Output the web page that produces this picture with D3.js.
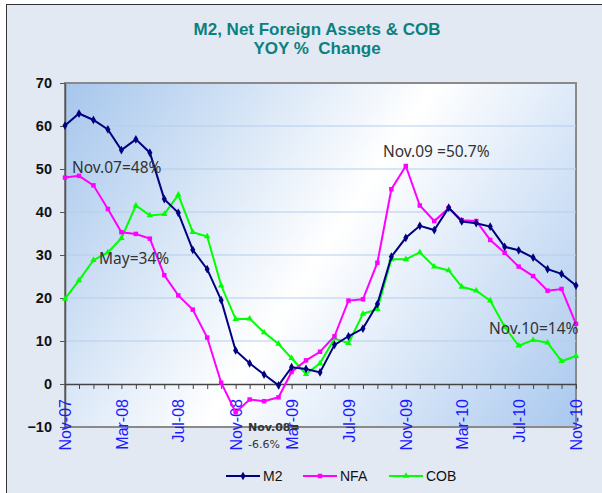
<!DOCTYPE html>
<html>
<head>
<meta charset="utf-8">
<script src="https://cdn.jsdelivr.net/npm/d3@7"></script>
<style>
  body { margin: 0; background: #fff; }
  svg { display: block; font-family: "Liberation Sans", Arial, sans-serif; }
</style>
</head>
<body>
<div id="chart"></div>
<script>
// monthly data, Nov-07 .. Nov-10 (YOY % change)
var months = d3.timeMonth.range(new Date(2007, 10, 1), new Date(2010, 11, 1));
var m2 = [60.1, 62.9, 61.4, 59.2, 54.4, 56.9, 53.8, 43.0, 39.8, 31.2, 26.7, 19.5, 7.8, 4.8, 2.2, -0.3, 3.9, 3.5, 2.7, 9.1,
          11.1, 12.9, 18.6, 29.6, 34.0, 36.8, 35.8, 41.0, 37.8, 37.4, 36.6, 31.9, 31.1, 29.4, 26.7, 25.6, 22.9];
var nfa = [48.0, 48.4, 46.2, 40.7, 35.3, 34.9, 33.8, 25.3, 20.6, 17.3, 10.8, 0.3, -6.6, -3.6, -4.0, -3.1, 2.8, 5.5, 7.5, 11.1,
           19.4, 19.7, 28.2, 45.3, 50.7, 41.5, 37.9, 40.9, 38.1, 37.9, 33.5, 30.5, 27.3, 25.1, 21.7, 22.1, 14.0];
var cob = [19.8, 24.1, 28.8, 30.6, 33.9, 41.5, 39.2, 39.5, 44.0, 35.3, 34.3, 22.9, 15.1, 15.2, 12.0, 9.3, 6.0, 2.3, 4.8, 10.6,
           9.5, 16.3, 17.4, 29.0, 29.0, 30.6, 27.3, 26.4, 22.6, 21.7, 19.4, 13.3, 8.9, 10.2, 9.6, 5.3, 6.5];
var yTicks = [-10, 0, 10, 20, 30, 40, 50, 60, 70];
var titleLines = ["M2, Net Foreign Assets & COB", "YOY %  Change"];

var W = 602, H = 493;
var plot = {left: 65, right: 576, top: 83, bottom: 427};

var svg = d3.select("#chart").append("svg")
    .attr("width", W)
    .attr("height", H);

// outer chart background + frame
svg.append("rect")
    .attr("x", 6.5).attr("y", 4.5)
    .attr("width", 620).attr("height", 520)
    .attr("fill", "#e3e9f3")
    .attr("stroke", "#333").attr("stroke-width", 1);

// plot area gradient (blue corners, white diagonal)
var defs = svg.append("defs");
var grad = defs.append("linearGradient")
    .attr("id", "plotGrad")
    .attr("gradientUnits", "userSpaceOnUse")
    .attr("x1", plot.left).attr("y1", plot.top)
    .attr("x2", plot.right).attr("y2", plot.bottom);
grad.append("stop").attr("offset", "0%").attr("stop-color", "#a6c6ec");
grad.append("stop").attr("offset", "50%").attr("stop-color", "#ffffff");
grad.append("stop").attr("offset", "100%").attr("stop-color", "#a9c8ee");

svg.append("rect")
    .attr("x", plot.left).attr("y", plot.top)
    .attr("width", plot.right - plot.left).attr("height", plot.bottom - plot.top)
    .attr("fill", "url(#plotGrad)")
    .attr("stroke", "#8a8a8a").attr("stroke-width", 2);

// scales
var x = d3.scaleTime()
    .domain([months[0], months[months.length - 1]])
    .range([plot.left, plot.right]);
var y = d3.scaleLinear()
    .domain([-10, 70])
    .range([plot.bottom, plot.top]);

// gridlines
svg.append("g")
  .selectAll("line")
  .data(yTicks.filter(function(d) { return d > 0 && d < 70; }))
  .enter().append("line")
    .attr("x1", plot.left).attr("x2", plot.right)
    .attr("y1", function(d) { return y(d); })
    .attr("y2", function(d) { return y(d); })
    .attr("stroke", "#b3cdec").attr("stroke-width", 1.2);

// title
svg.append("g")
  .selectAll("text")
  .data(titleLines)
  .enter().append("text")
    .attr("x", 317)
    .attr("y", function(d, i) { return 35 + i * 19; })
    .attr("text-anchor", "middle")
    .attr("fill", "#0b8080")
    .attr("font-size", 17)
    .attr("font-weight", "bold")
    .attr("xml:space", "preserve")
    .text(function(d) { return d; });

// y axis
var yAxis = svg.append("g")
    .attr("transform", "translate(" + plot.left + ",0)")
    .call(d3.axisLeft(y).tickValues(yTicks).tickSize(5).tickSizeOuter(0));
yAxis.select(".domain").attr("stroke", "#555").attr("stroke-width", 1.5);
yAxis.selectAll(".tick line").attr("stroke", "#555");
yAxis.selectAll("text")
    .attr("font-size", 14.5)
    .attr("font-weight", "bold")
    .attr("fill", "#111")
    .attr("font-family", "Liberation Sans, Arial, sans-serif")
    .attr("x", -13);

// x axis at zero, a tick every month, label every 4th month
var fmt = d3.timeFormat("%b-%y");
var xAxis = svg.append("g")
    .attr("transform", "translate(0," + y(0) + ")")
    .call(d3.axisBottom(x)
        .tickValues(months)
        .tickSize(5)
        .tickSizeOuter(0)
        .tickFormat(function(d, i) { return i % 4 === 0 ? fmt(d) : ""; }));
xAxis.select(".domain").attr("stroke", "#444").attr("stroke-width", 1.5);
xAxis.selectAll(".tick line").attr("stroke", "#444");
xAxis.selectAll("text")
    .attr("font-size", 16)
    .attr("fill", "#1a1aff")
    .attr("font-family", "Liberation Sans, Arial, sans-serif")
    .attr("text-anchor", "end")
    .attr("transform", "rotate(-90)")
    .attr("x", -15)
    .attr("y", 0)
    .attr("dy", "0.35em");

// series
var series = [
  {name: "M2", values: m2, color: "#000080", symbol: d3.symbolDiamond, size: 22},
  {name: "NFA", values: nfa, color: "#ff00ff", symbol: d3.symbolSquare, size: 20},
  {name: "COB", values: cob, color: "#00ff00", symbol: d3.symbolTriangle, size: 18}
];

var line = d3.line()
    .x(function(d, i) { return x(months[i]); })
    .y(function(d) { return y(d); });

// draw back to front: COB, NFA, M2
series.slice().reverse().forEach(function(s) {
  var g = svg.append("g");
  g.append("path")
      .datum(s.values)
      .attr("d", line)
      .attr("fill", "none")
      .attr("stroke", s.color)
      .attr("stroke-width", 2);
  g.selectAll("path.pt")
    .data(s.values)
    .enter().append("path")
      .attr("class", "pt")
      .attr("d", d3.symbol().type(s.symbol).size(s.size))
      .attr("transform", function(d, i) { return "translate(" + x(months[i]) + "," + y(d) + ")"; })
      .attr("fill", s.color);
});

// annotations
var notes = [
  {text: "Nov.07=48%", x: 72, y: 173},
  {text: "May=34%", x: 99, y: 264},
  {text: "Nov.09 =50.7%", x: 383, y: 157},
  {text: "Nov.10=14%", x: 489, y: 334}
];
svg.append("g")
  .selectAll("text")
  .data(notes)
  .enter().append("text")
    .attr("x", function(d) { return d.x; })
    .attr("y", function(d) { return d.y; })
    .attr("font-family", "Noto Sans, DejaVu Sans, sans-serif")
    .attr("font-size", 15.5)
    .attr("fill", "#333")
    .attr("xml:space", "preserve")
    .text(function(d) { return d.text; });

var small = svg.append("text")
    .attr("font-family", "DejaVu Sans, sans-serif")
    .attr("font-size", 11)
    .attr("font-weight", "bold")
    .attr("fill", "#333");
small.append("tspan").attr("x", 248).attr("y", 431).text("Nov.08=");
small.append("tspan").attr("x", 248).attr("y", 448).attr("font-weight", "normal").text("-6.6%");

// legend
var legendX = [226, 303, 389];
var legend = svg.append("g")
  .selectAll("g")
  .data(series)
  .enter().append("g")
    .attr("transform", function(d, i) { return "translate(" + legendX[i] + ",476)"; });
legend.append("line")
    .attr("x1", 0).attr("x2", 34)
    .attr("stroke", function(d) { return d.color; })
    .attr("stroke-width", 2);
legend.append("path")
    .attr("d", function(d) { return d3.symbol().type(d.symbol).size(d.size)(); })
    .attr("transform", "translate(17,0)")
    .attr("fill", function(d) { return d.color; });
legend.append("text")
    .attr("x", 37)
    .attr("dy", "0.35em")
    .attr("font-size", 14)
    .attr("fill", "#111")
    .text(function(d) { return d.name; });
</script>
</body>
</html>
